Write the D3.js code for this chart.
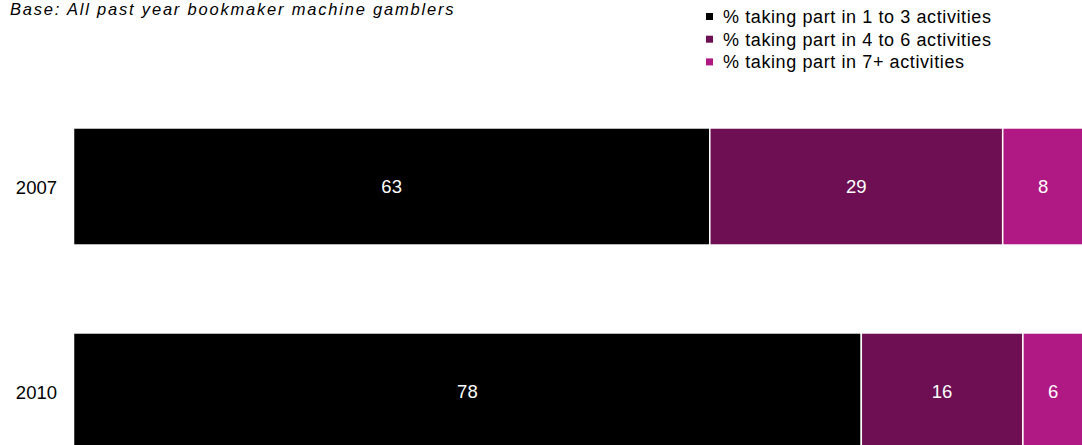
<!DOCTYPE html>
<html>
<head>
<meta charset="utf-8">
<script src="https://cdn.jsdelivr.net/npm/d3@7"></script>
<style>
  html, body { margin: 0; padding: 0; background: #fff; }
  svg { display: block; font-family: "Liberation Sans", Arial, sans-serif; }
</style>
</head>
<body>
<svg id="chart" width="1082" height="445"></svg>
<script>
// Survey years and share of gamblers by number of activities taken part in
const years = ["2007", "2010"];
const seriesNames = [
  "% taking part in 1 to 3 activities",
  "% taking part in 4 to 6 activities",
  "% taking part in 7+ activities"
];
const oneToThree = [63, 78];
const fourToSix = [29, 16];
const sevenPlus = [8, 6];
const seriesColors = ["#000000", "#6d0f52", "#b01884"];
const baseNote = "Base: All past year bookmaker machine gamblers";

const svg = d3.select("#chart");

const rows = years.map((y, i) => ({
  year: y,
  s0: oneToThree[i],
  s1: fourToSix[i],
  s2: sevenPlus[i]
}));

const stack = d3.stack().keys(["s0", "s1", "s2"]);
const layers = stack(rows);

const x = d3.scaleLinear().domain([0, 100]).range([73.5, 1083.5]);
const y = d3.scaleBand()
  .domain(years)
  .range([84, 494])
  .paddingInner(0.429)
  .paddingOuter(0.2145);

const color = d3.scaleOrdinal().domain(["s0", "s1", "s2"]).range(seriesColors);

// Stacked bars with value labels
const g = svg.append("g");
layers.forEach(layer => {
  g.selectAll(null)
    .data(layer)
    .enter()
    .append("rect")
    .attr("x", d => x(d[0]))
    .attr("y", d => y(d.data.year))
    .attr("width", d => x(d[1]) - x(d[0]))
    .attr("height", y.bandwidth())
    .attr("fill", color(layer.key))
    .attr("stroke", "#ffffff")
    .attr("stroke-width", 1.5);

  g.selectAll(null)
    .data(layer)
    .enter()
    .append("text")
    .attr("x", d => (x(d[0]) + x(d[1])) / 2)
    .attr("y", d => y(d.data.year) + y.bandwidth() / 2 + 6)
    .attr("text-anchor", "middle")
    .attr("fill", "#ffffff")
    .style("font-size", "18.5px")
    .text(d => d.data[layer.key]);
});

// Category axis labels
const yAxis = d3.axisLeft(y).tickSize(0).tickPadding(15);
const ax = svg.append("g").attr("transform", "translate(72,0)").call(yAxis);
ax.select(".domain").remove();
ax.selectAll("text")
  .attr("dy", "0.4em")
  .style("font-size", "18.5px")
  .style("font-family", "'Liberation Sans', Arial, sans-serif")
  .attr("fill", "#000");

// Base note
svg.append("text")
  .attr("x", 10)
  .attr("y", 15)
  .style("font-size", "16.5px")
  .style("font-style", "italic")
  .style("letter-spacing", "1.8px")
  .attr("fill", "#000")
  .text(baseNote);

// Legend
const legend = svg.append("g").attr("transform", "translate(706,0)");
seriesNames.forEach((name, i) => {
  const ly = 23 + i * 22.7;
  legend.append("rect")
    .attr("x", 0)
    .attr("y", ly - 10)
    .attr("width", 7)
    .attr("height", 7)
    .attr("fill", seriesColors[i]);
  legend.append("text")
    .attr("x", 17)
    .attr("y", ly)
    .style("font-size", "18px")
    .style("letter-spacing", "0.6px")
    .attr("fill", "#000")
    .text(name);
});
</script>
</body>
</html>
